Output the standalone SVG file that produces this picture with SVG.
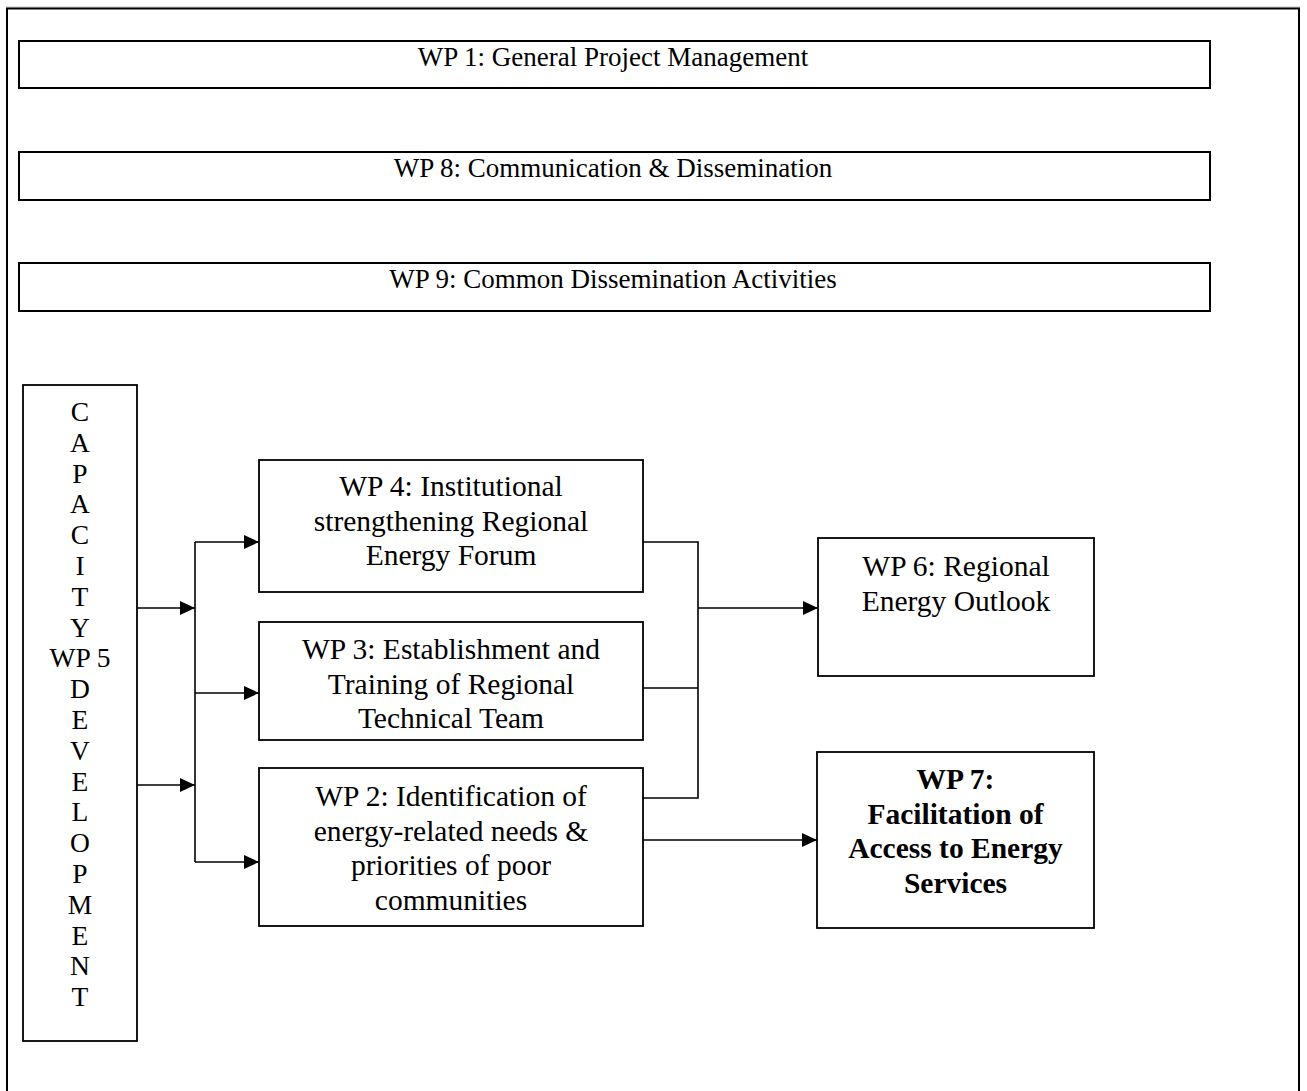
<svg xmlns="http://www.w3.org/2000/svg" width="1307" height="1091" viewBox="0 0 1307 1091">
<style>
.box{fill:#fff;stroke:#000;stroke-width:2}
.bx{fill:#fff;stroke:#000;stroke-width:1.8}
.t{font-family:"Liberation Serif","Times New Roman",serif;font-size:27px;fill:#000;text-anchor:middle}
.v{font-family:"Liberation Serif","Times New Roman",serif;font-size:27.5px;fill:#000;text-anchor:middle}
.m{font-family:"Liberation Serif","Times New Roman",serif;font-size:29.5px;fill:#000;text-anchor:middle}
.b{font-weight:bold}
.c{fill:none;stroke:#000;stroke-width:1.6}
</style>
<defs>
<marker id="ah" viewBox="0 0 15 14" refX="15" refY="7" markerWidth="15" markerHeight="14" markerUnits="userSpaceOnUse" orient="auto">
<path d="M0,0 L15,7 L0,14 Z" fill="#000"/>
</marker>
</defs>
<rect width="1307" height="1091" fill="#fff"/>
<path d="M6,7 H1300" stroke="#bbb" stroke-width="1" fill="none"/>
<path d="M7,1091 V8.5 H1299 V1091" fill="none" stroke="#000" stroke-width="2"/>

<g id="wp1"><rect class="box" x="19" y="41" width="1191" height="47"/><text class="t" x="613" y="66">WP 1: General Project Management</text></g>
<g id="wp8"><rect class="box" x="19" y="152" width="1191" height="48"/><text class="t" x="613" y="177">WP 8: Communication &amp; Dissemination</text></g>
<g id="wp9"><rect class="box" x="19" y="263" width="1191" height="48"/><text class="t" x="613" y="288">WP 9: Common Dissemination Activities</text></g>

<g id="wp5"><rect class="bx" x="23" y="385" width="114" height="656"/>
<text class="v">
<tspan x="80" y="421">C</tspan><tspan x="80" y="451.8">A</tspan><tspan x="80" y="482.6">P</tspan><tspan x="80" y="513.4">A</tspan><tspan x="80" y="544.2">C</tspan><tspan x="80" y="575">I</tspan><tspan x="80" y="605.8">T</tspan><tspan x="80" y="636.6">Y</tspan><tspan x="80" y="667.4">WP 5</tspan><tspan x="80" y="698.2">D</tspan><tspan x="80" y="729">E</tspan><tspan x="80" y="759.8">V</tspan><tspan x="80" y="790.6">E</tspan><tspan x="80" y="821.4">L</tspan><tspan x="80" y="852.2">O</tspan><tspan x="80" y="883">P</tspan><tspan x="80" y="913.8">M</tspan><tspan x="80" y="944.6">E</tspan><tspan x="80" y="975.4">N</tspan><tspan x="80" y="1006.2">T</tspan>
</text></g>

<g id="wp4"><rect class="bx" x="259" y="460" width="384" height="132"/>
<text class="m"><tspan x="451" y="496">WP 4: Institutional</tspan><tspan x="451" y="530.5">strengthening Regional</tspan><tspan x="451" y="565">Energy Forum</tspan></text></g>

<g id="wp3"><rect class="bx" x="259" y="622" width="384" height="118"/>
<text class="m"><tspan x="451" y="659">WP 3: Establishment and</tspan><tspan x="451" y="693.5">Training of Regional</tspan><tspan x="451" y="728">Technical Team</tspan></text></g>

<g id="wp2"><rect class="bx" x="259" y="768" width="384" height="158"/>
<text class="m"><tspan x="451" y="806">WP 2: Identification of</tspan><tspan x="451" y="840.5">energy-related needs &amp;</tspan><tspan x="451" y="875">priorities of poor</tspan><tspan x="451" y="909.5">communities</tspan></text></g>

<g id="wp6"><rect class="bx" x="818" y="538" width="276" height="138"/>
<text class="m"><tspan x="956" y="576">WP 6: Regional</tspan><tspan x="956" y="610.5">Energy Outlook</tspan></text></g>

<g id="wp7"><rect class="bx" x="817" y="752" width="277" height="176"/>
<text class="m b"><tspan x="955.5" y="789">WP 7:</tspan><tspan x="955.5" y="823.5">Facilitation of</tspan><tspan x="955.5" y="858">Access to Energy</tspan><tspan x="955.5" y="892.5">Services</tspan></text></g>

<g id="connectors">
<path class="c" d="M137,608 H195" marker-end="url(#ah)"/>
<path class="c" d="M137,785 H195" marker-end="url(#ah)"/>
<path class="c" d="M195,542 V862"/>
<path class="c" d="M195,542 H259" marker-end="url(#ah)"/>
<path class="c" d="M195,693 H259" marker-end="url(#ah)"/>
<path class="c" d="M195,862 H259" marker-end="url(#ah)"/>
<path class="c" d="M643,542 H698 V798 H642"/>
<path class="c" d="M643,688 H698"/>
<path class="c" d="M698,608 H818" marker-end="url(#ah)"/>
<path class="c" d="M643,840 H817" marker-end="url(#ah)"/>
</g>
</svg>
